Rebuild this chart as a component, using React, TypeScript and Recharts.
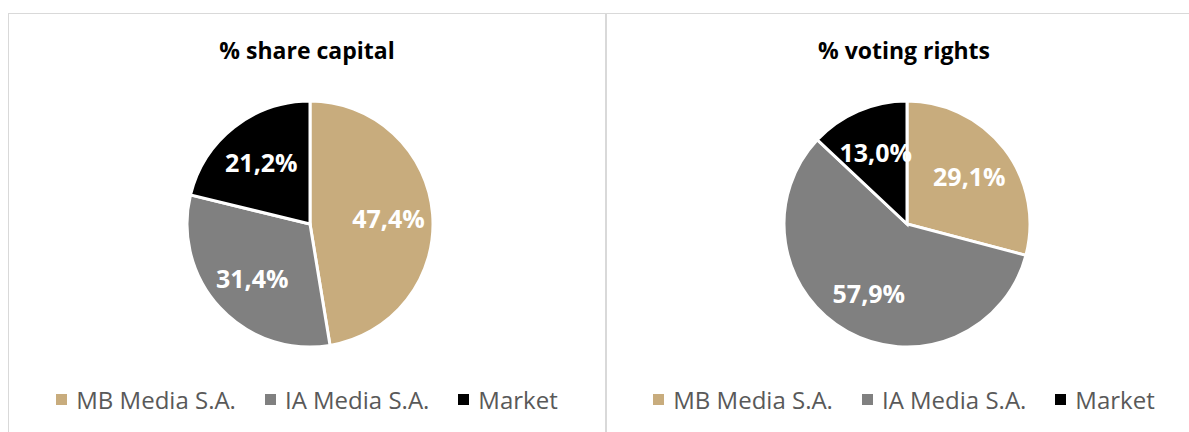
import React from 'react';
import { PieChart, Pie, Cell, Legend } from 'recharts';

const holders = ['MB Media S.A.', 'IA Media S.A.', 'Market'];
const shareCapital = [47.4, 31.4, 21.2];
const votingRights = [29.1, 57.9, 13.0];
const colors = ['#C8AC7D', '#808080', '#000000'];

const FONT = '"Open Sans", "Noto Sans", sans-serif';
const RAD = Math.PI / 180;

const toRows = (values: number[]) => holders.map((name, i) => ({ name, value: values[i] }));

const renderLabel = (props: any) => {
  const { cx, cy, midAngle, outerRadius, value } = props;
  const r = outerRadius * 0.64;
  const x = cx + r * Math.cos(-midAngle * RAD);
  const y = cy + r * Math.sin(-midAngle * RAD);
  return (
    <text
      x={x}
      y={y}
      fill="#ffffff"
      textAnchor="middle"
      dominantBaseline="central"
      fontFamily={FONT}
      fontWeight={700}
      fontSize={25}
    >
      {value.toFixed(1).replace('.', ',')}%
    </text>
  );
};

// legend keeps the series order of the data, not the sorted payload
const LegendContent = () => (
  <div style={{ display: 'flex', justifyContent: 'center', fontFamily: FONT, fontSize: 24, color: '#595959' }}>
    {holders.map((name, i) => (
      <div key={name} style={{ display: 'flex', alignItems: 'center', marginRight: i < 2 ? 29 : 0 }}>
        <span style={{ display: 'inline-block', width: 11, height: 11, background: colors[i], marginRight: 9 }} />
        <span>{name}</span>
      </div>
    ))}
  </div>
);

const Panel: React.FC<{ title: string; values: number[]; left: number }> = ({ title, values, left }) => {
  const data = toRows(values);
  return (
    <div style={{ position: 'absolute', left, top: 13, width: 598, height: 419 }}>
      <div
        style={{
          position: 'absolute',
          top: 21,
          width: '100%',
          textAlign: 'center',
          fontFamily: FONT,
          fontWeight: 700,
          fontSize: 23,
          color: '#000',
        }}
      >
        {title}
      </div>
      <PieChart width={598} height={419} margin={{ top: 0, right: 0, bottom: 0, left: 0 }}>
        <Pie
          data={data}
          dataKey="value"
          nameKey="name"
          cx={302}
          cy={211}
          outerRadius={123}
          startAngle={90}
          endAngle={-270}
          stroke="#ffffff"
          strokeWidth={3}
          labelLine={false}
          label={renderLabel}
          isAnimationActive={false}
        >
          {data.map((d, i) => (
            <Cell key={d.name} fill={colors[i]} />
          ))}
        </Pie>
        <Legend verticalAlign="bottom" content={<LegendContent />} wrapperStyle={{ bottom: 16 }} />
      </PieChart>
    </div>
  );
};

export default function App() {
  return (
    <div style={{ position: 'absolute', left: 0, top: 0, width: 1189, height: 432, background: '#fff', overflow: 'hidden' }}>
      <div style={{ position: 'absolute', left: 8, top: 13, width: 1181, height: 1, background: '#D9D9D9' }} />
      <div style={{ position: 'absolute', left: 8, top: 13, width: 1, height: 419, background: '#D9D9D9' }} />
      <div style={{ position: 'absolute', left: 605, top: 13, width: 2, height: 419, background: '#D9D9D9' }} />
      <Panel title="% share capital" values={shareCapital} left={8} />
      <Panel title="% voting rights" values={votingRights} left={605} />
    </div>
  );
}
